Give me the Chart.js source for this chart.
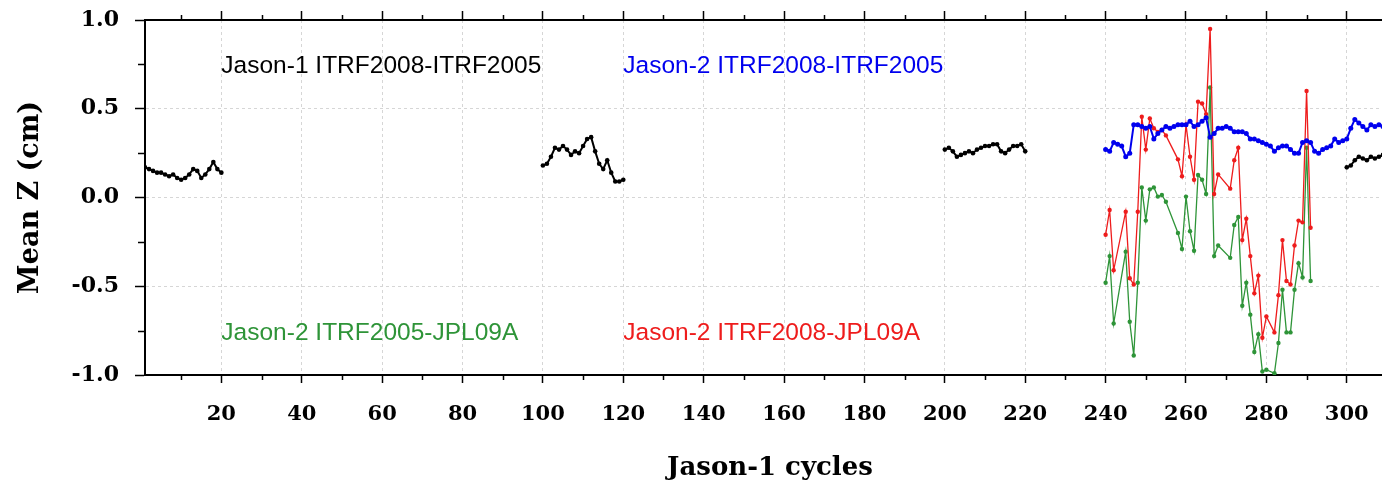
<!DOCTYPE html>
<html>
<head>
<meta charset="utf-8">
<script src="https://cdn.jsdelivr.net/npm/chart.js@4.4.1/dist/chart.umd.min.js"></script>
<style>
  html, body { margin: 0; padding: 0; overflow: hidden; background: #fff; }
  #wrap { width: 1400px; height: 488px; position: relative; }
</style>
</head>
<body>
<div id="wrap"><canvas id="meanZ"></canvas></div>
<script>
// Jason-1 ITRF2008-ITRF2005 (cm), blocks of consecutive cycles
const j1Cycles001 = [0.17, 0.16, 0.15, 0.14, 0.14, 0.13, 0.12, 0.13, 0.11, 0.10,
                     0.11, 0.13, 0.16, 0.15, 0.11, 0.13, 0.16, 0.20, 0.16, 0.14];
const j1Cycles100 = [0.18, 0.19, 0.23, 0.28, 0.27, 0.29, 0.27, 0.24, 0.26, 0.25,
                     0.29, 0.33, 0.34, 0.26, 0.19, 0.16, 0.21, 0.14, 0.09, 0.09, 0.10];
const j1Cycles200 = [0.27, 0.28, 0.26, 0.23, 0.24, 0.25, 0.26, 0.25, 0.27, 0.28,
                     0.29, 0.29, 0.30, 0.30, 0.26, 0.25, 0.27, 0.29, 0.29, 0.30, 0.26];
const j1Cycles300 = [0.17, 0.18, 0.21, 0.23, 0.22, 0.21, 0.23, 0.22, 0.23, 0.24];

// Jason-2 series, first value at cycle 240 (null = no value)
const j2FirstCycle = 240;
const j2Itrf08Itrf05 = [
  0.27, 0.26, 0.31, 0.30, 0.29, 0.23, 0.25, 0.41, 0.41, 0.40,
  0.39, 0.40, 0.33, 0.36, 0.38, 0.40, 0.39, 0.40, 0.41, 0.41,
  0.41, 0.43, 0.40, 0.41, 0.43, 0.45, 0.34, 0.36, 0.39, 0.39,
  0.40, 0.39, 0.37, 0.37, 0.37, 0.36, 0.33, 0.33, 0.32, 0.31,
  0.30, 0.29, 0.26, 0.28, 0.29, 0.29, 0.27, 0.25, 0.25, 0.31,
  0.32, 0.31, 0.26, 0.25, 0.27, 0.28, 0.29, 0.33, 0.31, 0.32,
  0.33, 0.39, 0.44, 0.42, 0.40, 0.38, 0.41, 0.40, 0.41, 0.40
];
const j2Itrf08Jpl09a = [
  -0.21, -0.07, -0.41, null, null, -0.08, -0.455, -0.49, -0.08, 0.455,
  0.27, 0.445, 0.39, 0.37, 0.38, 0.35, null, null, 0.215, 0.12,
  0.41, 0.23, 0.10, 0.54, 0.53, 0.47, 0.95, 0.02, 0.13, null,
  null, 0.05, 0.21, 0.28, -0.24, -0.12, -0.33, -0.54, -0.44, -0.79,
  -0.67, null, -0.76, -0.55, -0.24, -0.47, -0.49, -0.27, -0.13, -0.14,
  0.60, -0.17
];
const j2Itrf05Jpl09a = [
  -0.48, -0.33, -0.71, null, null, -0.305, -0.70, -0.89, -0.48, 0.057,
  -0.13, 0.046, 0.057, 0.005, 0.014, -0.024, null, null, -0.20, -0.29,
  0.005, -0.19, -0.30, 0.127, 0.10, 0.02, 0.62, -0.33, -0.27, null,
  null, -0.34, -0.155, -0.11, -0.61, -0.48, -0.66, -0.87, -0.77, -0.98,
  -0.97, null, -0.99, -0.82, -0.52, -0.76, -0.76, -0.52, -0.37, -0.45,
  0.28, -0.47
];

const xMajorTicks = [20, 40, 60, 80, 100, 120, 140, 160, 180, 200, 220, 240, 260, 280, 300];
const yMajorTicks = [-1.0, -0.5, 0.0, 0.5, 1.0];

const asPoints = (start, values) => values.map((v, i) => ({ x: start + i, y: v }));

// black blocks joined with a break between them
const jason1Points = [];
[[1, j1Cycles001], [100, j1Cycles100], [200, j1Cycles200], [300, j1Cycles300]].forEach(([s, vals], k) => {
  if (k > 0) jason1Points.push({ x: s - 1, y: null });
  jason1Points.push(...asPoints(s, vals));
});

const serif = '"DejaVu Serif", "Liberation Serif", serif';

// keep the plot box fixed: no extra room for overhanging tick labels
const noOverhang = s => { s.paddingTop = 0; s.paddingBottom = 0; s.paddingLeft = 0; s.paddingRight = 0; };

const labelsAndMinorTicks = {
  id: 'labelsAndMinorTicks',
  afterDraw(chart) {
    const { ctx, chartArea: a, scales: { x, y } } = chart;
    ctx.save();
    ctx.strokeStyle = '#000';
    ctx.lineWidth = 1.5;
    ctx.beginPath();
    for (let v = 10; v <= 310; v += 20) {
      const px = Math.round(x.getPixelForValue(v)) + 0.5;
      ctx.moveTo(px, a.bottom); ctx.lineTo(px, a.bottom + 5);
      ctx.moveTo(px, a.top); ctx.lineTo(px, a.top - 5);
    }
    for (const v of [-0.75, -0.25, 0.25, 0.75]) {
      const py = Math.round(y.getPixelForValue(v)) + 0.5;
      ctx.moveTo(a.left, py); ctx.lineTo(a.left - 7, py);
    }
    ctx.stroke();

    ctx.font = '24.5px "Liberation Sans", Arial, sans-serif';
    ctx.textBaseline = 'alphabetic';
    ctx.textAlign = 'left';
    const notes = [
      ['Jason-1 ITRF2008-ITRF2005', '#000000', 20, 0.70],
      ['Jason-2 ITRF2008-ITRF2005', '#0000ee', 120, 0.70],
      ['Jason-2 ITRF2005-JPL09A', '#2e9438', 20, -0.80],
      ['Jason-2 ITRF2008-JPL09A', '#ee1c1c', 120, -0.80]
    ];
    notes.forEach(([text, color, cx, cy]) => {
      ctx.fillStyle = color;
      ctx.fillText(text, x.getPixelForValue(cx), y.getPixelForValue(cy));
    });
    ctx.restore();
  }
};

new Chart(document.getElementById('meanZ'), {
  type: 'line',
  data: {
    datasets: [
      {
        label: 'Jason-1 ITRF2008-ITRF2005',
        data: jason1Points,
        borderColor: '#000', backgroundColor: '#000',
        borderWidth: 2, pointRadius: 2.3, pointBorderWidth: 0,
        spanGaps: false, order: 1
      },
      {
        label: 'Jason-2 ITRF2008-ITRF2005',
        data: asPoints(j2FirstCycle, j2Itrf08Itrf05),
        borderColor: '#0000ee', backgroundColor: '#0000ee',
        borderWidth: 2, pointRadius: 2.5, pointBorderWidth: 0,
        order: 2
      },
      {
        label: 'Jason-2 ITRF2008-JPL09A',
        data: asPoints(j2FirstCycle, j2Itrf08Jpl09a),
        borderColor: '#ee1c1c', backgroundColor: '#ee1c1c',
        borderWidth: 1.3, pointRadius: 2.2, pointBorderWidth: 0,
        spanGaps: true, order: 3
      },
      {
        label: 'Jason-2 ITRF2005-JPL09A',
        data: asPoints(j2FirstCycle, j2Itrf05Jpl09a),
        borderColor: '#2e9438', backgroundColor: '#2e9438',
        borderWidth: 1.3, pointRadius: 2.2, pointBorderWidth: 0,
        spanGaps: true, order: 4
      }
    ]
  },
  options: {
    responsive: true,
    maintainAspectRatio: false,
    animation: false,
    layout: { padding: { left: 0, right: 5, top: 0, bottom: 0 } },
    plugins: { legend: { display: false }, tooltip: { enabled: false } },
    elements: { line: { tension: 0 } },
    scales: {
      x: {
        type: 'linear', position: 'bottom', min: 1, max: 312,
        afterBuildTicks: s => { s.ticks = xMajorTicks.map(v => ({ value: v })); },
        afterFit: s => { s.height = 113; noOverhang(s); },
        grid: { color: '#d6d6d6', tickColor: '#000', tickLength: 8, tickWidth: 1.5 },
        border: { color: '#000', width: 2, dash: [3, 3] },
        ticks: { color: '#000', padding: 19, maxRotation: 0, font: { family: serif, weight: 'bold', size: 21 } },
        title: { display: true, text: 'Jason-1 cycles', color: '#000', padding: { top: 0, bottom: 4 },
                 font: { family: serif, weight: 'bold', size: 26 } }
      },
      xTop: {
        type: 'linear', position: 'top', min: 1, max: 312,
        afterBuildTicks: s => { s.ticks = xMajorTicks.map(v => ({ value: v })); },
        afterFit: s => { s.height = 20; noOverhang(s); },
        grid: { drawOnChartArea: false, tickColor: '#000', tickLength: 9, tickWidth: 1.5 },
        border: { color: '#000', width: 2 },
        ticks: { display: false }
      },
      y: {
        type: 'linear', position: 'left', min: -1, max: 1,
        afterBuildTicks: s => { s.ticks = yMajorTicks.map(v => ({ value: v })); },
        afterFit: s => { s.width = 145; noOverhang(s); },
        grid: {
          color: c => (c.tick && Math.abs(c.tick.value) === 1) ? 'rgba(0,0,0,0)' : '#d6d6d6',
          tickColor: '#000', tickLength: 10, tickWidth: 1.5
        },
        border: { color: '#000', width: 2, dash: [3, 3] },
        ticks: { color: '#000', padding: 16, callback: v => v.toFixed(1),
                 font: { family: serif, weight: 'bold', size: 22 } },
        title: { display: true, text: 'Mean Z (cm)', color: '#000', padding: { top: 15, bottom: 0 },
                 font: { family: serif, weight: 'bold', size: 27 } }
      }
    }
  },
  plugins: [labelsAndMinorTicks]
});
</script>
</body>
</html>
